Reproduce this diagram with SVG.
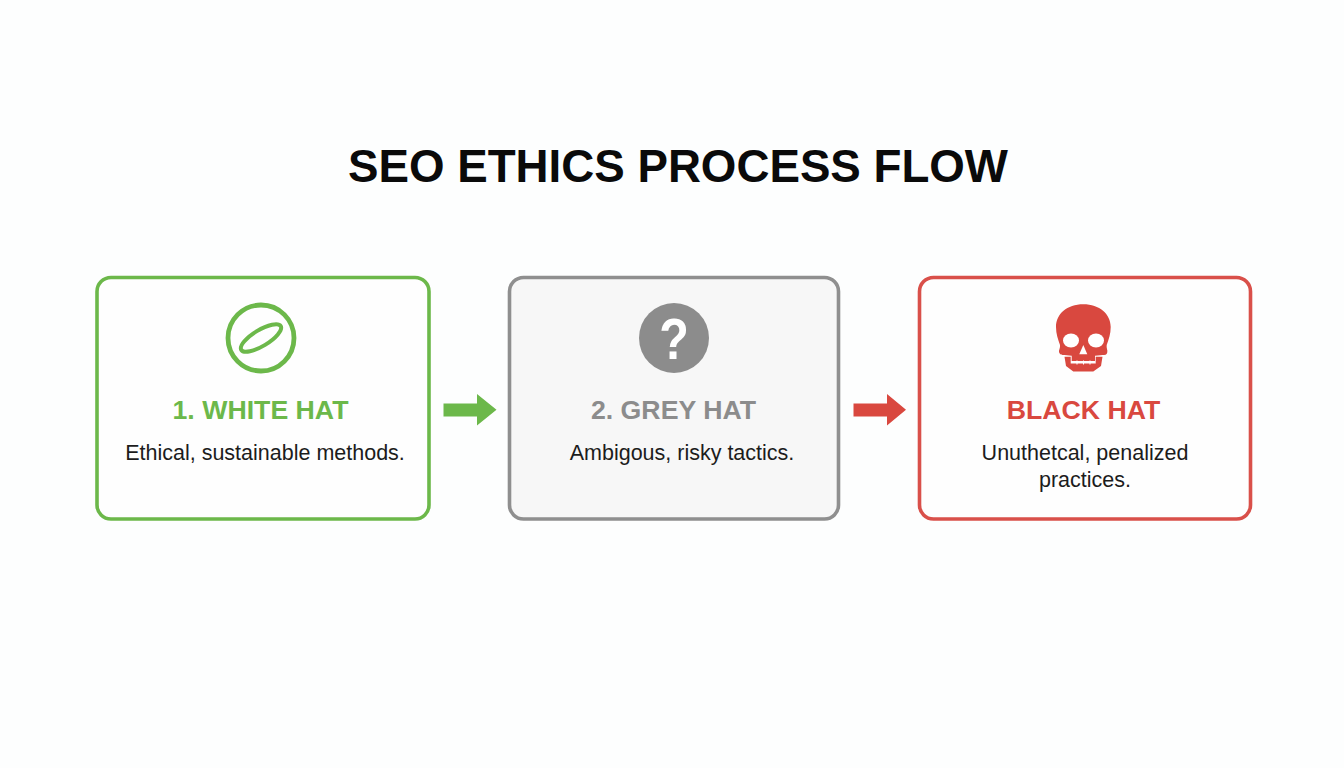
<svg xmlns="http://www.w3.org/2000/svg" width="1344" height="768" viewBox="0 0 1344 768">
<style>
text{font-family:"Liberation Sans",Arial,sans-serif;text-anchor:middle}
.title{font-size:45.7px;font-weight:700;fill:#0a0a0a}
.head{font-size:26.7px;font-weight:700}
.body{font-size:21.5px;fill:#1c1c1c}
.card{stroke-width:3.6}
.green{fill:#6cb84a}.grey{fill:#8c8c8c}.red{fill:#d9483f}
.hole{fill:#fff}
</style>
<rect width="1344" height="768" fill="#fdfefe"/>
<text class="title" x="678" y="182">SEO ETHICS PROCESS FLOW</text>
<g id="connectors">
<path class="green" d="M443.500 403.500H477V394L496.500 409.700L477 425.500V416.500H443.500Z"/>
<path class="red" d="M853.500 403.500H887V394L906 409.700L887 425.500V416.500H853.500Z"/>
</g>
<g id="node-white-hat">
<rect class="card" x="97" y="277.500" width="332" height="241.500" rx="14" fill="#fefefe" stroke="#6cb84a"/>
<circle cx="261" cy="338" r="33" fill="none" stroke="#6cb84a" stroke-width="4.800"/>
<ellipse cx="261" cy="338" rx="23" ry="8" transform="rotate(-31 261 338)" fill="none" stroke="#6cb84a" stroke-width="4"/>
<text class="head green" x="260.500" y="419">1. WHITE HAT</text>
<text class="body" x="265" y="460">Ethical, sustainable methods.</text>
</g>
<g id="node-grey-hat">
<rect class="card" x="509.500" y="277.500" width="329" height="241.500" rx="14" fill="#f7f7f7" stroke="#8f8f8f"/>
<circle class="grey" cx="674" cy="338" r="35"/>
<text transform="translate(674 359) scale(.85 1)" font-size="57" font-weight="700" fill="#fff">?</text>
<text class="head grey" x="673.500" y="419">2. GREY HAT</text>
<text class="body" x="682" y="460">Ambigous, risky tactics.</text>
</g>
<g id="node-black-hat">
<rect class="card" x="919.500" y="277.500" width="331" height="241.500" rx="14" fill="#fefefe" stroke="#d9504a"/>
<path class="red" d="M1083.300 304.300C1067 304.300 1056 314 1056 327C1056 334 1058 339 1060 345C1060.500 348 1058.500 350 1059 352C1060 355 1062 355 1064.300 355L1071.700 355.700V361H1095V355.700L1102.700 355C1105 355 1107 355 1107.300 352C1107.800 350 1106.200 348 1106.700 345C1108.700 339 1110.700 334 1110.700 327C1110.700 314 1099.500 304.300 1083.300 304.300Z"/>
<path class="red" d="M1064.500 356.800H1070.700V363.500H1095.700V356.800H1102.500L1101 366L1093.300 371.500H1073.300L1066 366Z"/>
<ellipse class="hole" cx="1071" cy="340.500" rx="8" ry="7"/>
<ellipse class="hole" cx="1096" cy="340.500" rx="8" ry="7"/>
<path class="hole" d="M1083.300 345L1079.300 354.300H1087.300Z"/>
<path class="hole" d="M1076.500 360.500h1v4h-1zM1083 360.500h1v4h-1zM1089.500 360.500h1v4h-1z"/>
<text class="head red" x="1083.500" y="419">BLACK HAT</text>
<text class="body" x="1085" y="460">Unuthetcal, penalized</text>
<text class="body" x="1085" y="487">practices.</text>
</g>
</svg>
